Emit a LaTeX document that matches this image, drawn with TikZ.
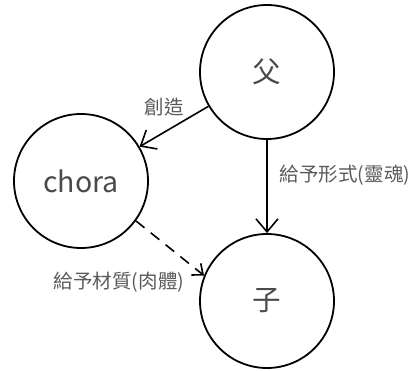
\documentclass[tikz,border=0pt]{standalone}
\usepackage{fontspec}
\setmainfont{Noto Sans CJK TC}
\usetikzlibrary{arrows.meta}
\definecolor{txt}{HTML}{4A4A4A}
\definecolor{lbl}{HTML}{5A5A5A}
\tikzset{
  bubble/.style={circle,draw=black,line width=1.8pt,minimum size=134pt,inner sep=0pt,text=txt,font=\fontsize{28.5}{31}\selectfont},
  conn/.style={line width=1.6pt,-{Straight Barb[length=13pt,width=22pt,line width=1.6pt]}},
  dconn/.style={line width=1.6pt,dash pattern=on 11pt off 8pt,-{Straight Barb[length=9pt,width=15pt,line width=1.6pt]}},
  lab/.style={text=lbl,font=\fontsize{19.5}{21}\selectfont,inner sep=0pt}
}
\begin{document}
\begin{tikzpicture}[x=1pt,y=-1pt]
\useasboundingbox (0,0) rectangle (412,371);
\node[bubble] (fu) at (267,72) {父};
\node[bubble] (chora) at (81,181) {chora};
\node[bubble] (zi) at (267,301) {子};
\draw[conn] (fu) -- (chora);
\draw[conn] (fu) -- (zi);
\draw[dconn] (chora.-36) -- (zi.158);
\node[lab] (l1) at (164,107) {創造};
\node[lab] (l2) at (345,175) {給予形式(靈魂)};
\node[lab] (l3) at (119,282) {給予材質(肉體)};
\end{tikzpicture}
\end{document}
